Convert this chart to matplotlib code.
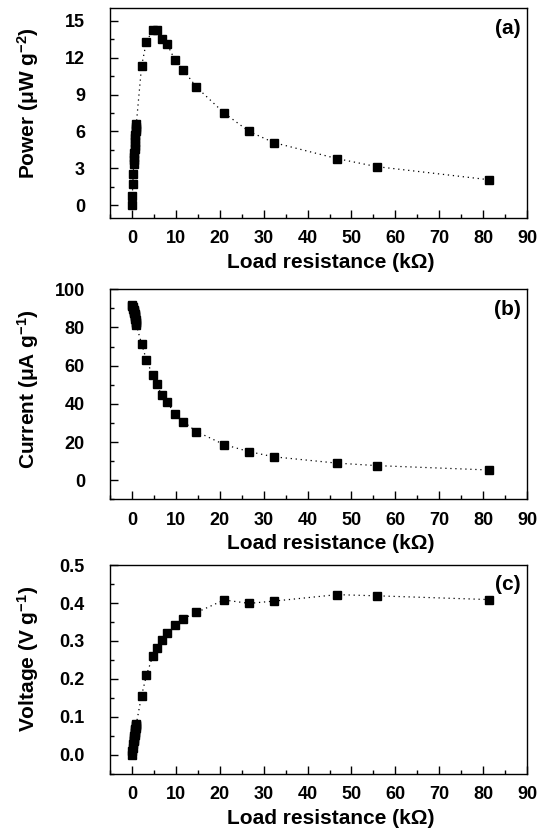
import matplotlib
matplotlib.use("Agg")
import matplotlib.pyplot as plt
from matplotlib.ticker import MultipleLocator

plt.rcParams['font.family'] = ['Liberation Sans', 'DejaVu Sans']
plt.rcParams['font.weight'] = 'bold'
plt.rcParams['mathtext.fontset'] = 'custom'
plt.rcParams['mathtext.rm'] = 'Liberation Sans:bold'
plt.rcParams['mathtext.it'] = 'Liberation Sans:bold'
plt.rcParams['mathtext.bf'] = 'Liberation Sans:bold'

# Load resistance (kOhm)
resistance = [0.0, 0.1, 0.2, 0.3, 0.4, 0.45, 0.5, 0.55, 0.6, 0.65, 0.7, 0.75, 0.8,
              0.85, 0.9, 0.95, 1.0,
              2.2, 3.3, 4.7, 5.6, 6.8, 8.0, 9.8, 11.7, 14.7, 21.0, 26.7, 32.3,
              46.7, 55.7, 81.4]
# Power (uW g^-2)
power = [0.0, 0.8, 1.75, 2.55, 3.4, 3.65, 3.95, 4.25, 4.55, 4.85, 5.15, 5.45, 5.75,
         6.0, 6.2, 6.4, 6.6,
         11.3, 13.3, 14.2, 14.25, 13.5, 13.1, 11.8, 11.0, 9.6, 7.5, 6.0, 5.1,
         3.8, 3.15, 2.08]
# Current (uA g^-1)
current = [91.8, 91.2, 90.5, 89.8, 89.0, 88.6, 88.1, 87.6, 87.1, 86.5, 85.9, 85.2, 84.5,
           83.7, 82.9, 82.1, 81.3,
           71.4, 63.1, 55.0, 50.5, 44.4, 41.0, 34.8, 30.7, 25.5, 18.7, 15.0, 12.3,
           9.0, 7.7, 5.4]
# Voltage (V g^-1)
voltage = [0.0, 0.009, 0.018, 0.027, 0.036, 0.040, 0.044, 0.048, 0.052, 0.056, 0.060,
           0.064, 0.068, 0.071, 0.075, 0.078, 0.081,
           0.156, 0.209, 0.259, 0.281, 0.303, 0.320, 0.342, 0.359, 0.375, 0.408,
           0.399, 0.405, 0.422, 0.419, 0.409]

xlabel = 'Load resistance (k\u03A9)'
panels = [
    (power, 'Power (\u03bcW g$^{-2}$)', (-1, 16), 3, 1.5, '(a)', 0.548, [0.204, 0.738, 0.774, 0.252]),
    (current, 'Current (\u03bcA g$^{-1}$)', (-10, 100), 20, 10, '(b)', 0.525, [0.204, 0.399, 0.774, 0.253]),
    (voltage, 'Voltage (V g$^{-1}$)', (-0.05, 0.5), 0.1, 0.05, '(c)', 0.55, [0.204, 0.069, 0.774, 0.251]),
]

fig = plt.figure(figsize=(5.39, 8.31), dpi=100)
for yvals, ylab, ylim, major, minor, tag, ylab_y, rect in panels:
    ax = fig.add_axes(rect)
    ax.plot(resistance, yvals, linestyle=(0, (1, 3)), color='black', lw=0.9,
            marker='s', markersize=6, markerfacecolor='black', markeredgecolor='black')
    ax.set_xlim(-5, 90)
    ax.set_ylim(*ylim)
    ax.xaxis.set_major_locator(MultipleLocator(10))
    ax.xaxis.set_minor_locator(MultipleLocator(5))
    ax.yaxis.set_major_locator(MultipleLocator(major))
    ax.yaxis.set_minor_locator(MultipleLocator(minor))
    if tag == '(c)':
        ax.yaxis.set_major_formatter(matplotlib.ticker.FormatStrFormatter('%.1f'))
    ax.tick_params(which='both', direction='in', top=False, right=False, width=1.0)
    ax.tick_params(which='major', length=6)
    ax.tick_params(which='minor', length=3)
    ax.tick_params(axis='y', which='both', pad=18, labelsize=13)
    ax.tick_params(axis='x', which='both', pad=9, labelsize=13)
    for lab in ax.get_xticklabels() + ax.get_yticklabels():
        lab.set_fontweight('bold')
    for sp in ax.spines.values():
        sp.set_linewidth(1.0)
    ax.set_xlabel(xlabel, fontsize=15, fontweight='bold', labelpad=4)
    ax.xaxis.label.set_x(0.529)
    ax.set_ylabel(ylab, fontsize=15, fontweight='bold')
    ax.yaxis.set_label_coords(-0.165, ylab_y)
    ax.text(0.985, 0.905, tag, transform=ax.transAxes, ha='right', va='center',
            fontsize=15, fontweight='bold')

fig.savefig('out.png', dpi=100)
